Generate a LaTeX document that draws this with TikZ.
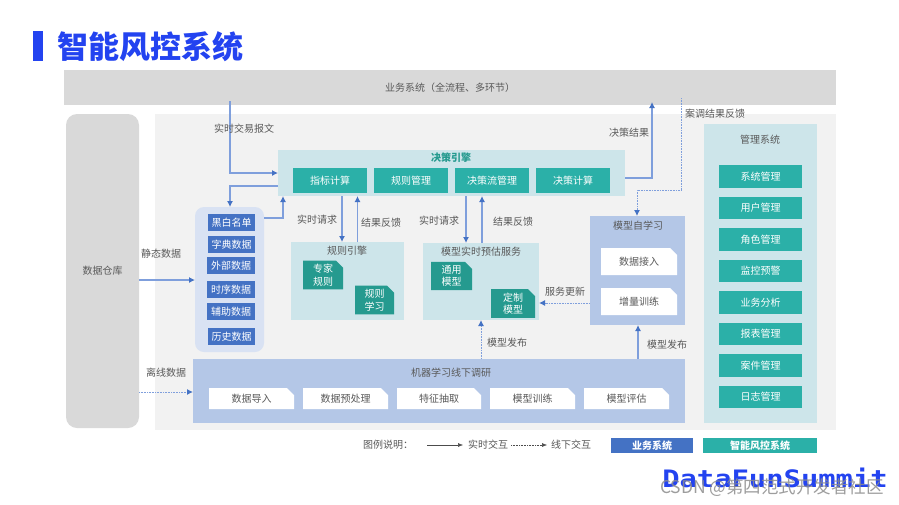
\documentclass[tikz,border=0pt]{standalone}
\usepackage{fontspec}
\setmainfont{Noto Sans CJK SC}
\newfontfamily\logofont{DejaVu Sans Mono}
\usetikzlibrary{shapes.misc,arrows.meta}
\definecolor{txt}{HTML}{595959}
\definecolor{teal1}{HTML}{2BB0A8}
\definecolor{teal2}{HTML}{259A8F}
\definecolor{panel}{HTML}{CDE5EA}
\definecolor{bluebox}{HTML}{4472C4}
\definecolor{bluepanel}{HTML}{B4C7E7}
\definecolor{datagroup}{HTML}{D9E2F3}
\definecolor{linec}{HTML}{7F9FDC}
\definecolor{tipc}{HTML}{4472C4}
\definecolor{ttl}{HTML}{2343F0}
\newcommand{\bx}[7]{\node[#2,minimum width={(#5)-(#3)},minimum height={(#6)-(#4)}] (#1) at ({((#3)+(#5))/2},{((#4)+(#6))/2}) {#7};}
\tikzset{
  x=1pt,y=-1pt,
  every node/.style={inner sep=0pt,outer sep=0pt,text=txt,font=\fontsize{10}{12}\selectfont},
  base/.style={rectangle,fill=#1},
  panelbox/.style={base=panel},
  tealbox/.style={base=teal1,text=white},
  databox/.style={base=bluebox,text=white},
  foldbox/.style={chamfered rectangle,chamfered rectangle corners=north east,chamfered rectangle xsep=3.5pt,chamfered rectangle ysep=3.5pt,fill=teal2,text=white,align=center,font=\fontsize{10}{12.5}\selectfont},
  paperbox/.style={chamfered rectangle,chamfered rectangle corners=north east,chamfered rectangle xsep=3.5pt,chamfered rectangle ysep=3.5pt,fill=white},
  live/.style={draw=linec,line width=1.1pt,-{Latex[length=6pt,width=6pt,color=tipc]}},
  off/.style={draw=linec,line width=1pt,dash pattern=on 1pt off 0.6pt,-{Latex[length=6pt,width=6pt,color=tipc]}},
  legendline/.style={draw=black!70,line width=0.5pt,-{Latex[length=5pt,width=4pt]}},
  legendoff/.style={draw=black!70,line width=0.5pt,dash pattern=on 1pt off 0.6pt,-{Latex[length=5pt,width=4pt]}},
}
\begin{document}
\begin{tikzpicture}
\useasboundingbox (0,0) rectangle (899,504);
\fill[white] (0,0) rectangle (899,504);
% title
\fill[ttl] (33,31) rectangle (43,61);
\node[anchor=center,text=ttl,font=\fontsize{31}{33}\selectfont\bfseries] (title) at (150.5,47) {智能风控系统};
% background regions
\bx{bizsys}{base=black!15}{64}{70}{836}{105}{业务系统（全流程、多环节）}
\fill[black!5] (155,114) rectangle (836,430);
\bx{dw}{rectangle,rounded corners=11pt,fill=black!15}{66}{114}{139}{428}{数据仓库}
% decision engine
\bx{engine}{panelbox}{278}{150}{625}{196}{}
\node[text=teal2,font=\fontsize{10}{12}\selectfont\bfseries] (enginet) at (451,158) {决策引擎};
\bx{e1}{tealbox}{293}{168}{367}{193}{指标计算}
\bx{e2}{tealbox}{374}{168}{448}{193}{规则管理}
\bx{e3}{tealbox}{455}{168}{529}{193}{决策流管理}
\bx{e4}{tealbox}{536}{168}{610}{193}{决策计算}
% data group
\bx{data}{rectangle,rounded corners=9pt,fill=datagroup}{195}{207}{264}{352}{}
\bx{d1}{databox}{208}{214}{255}{231}{黑白名单}
\bx{d2}{databox}{208}{236}{255}{253}{字典数据}
\bx{d3}{databox}{207}{257}{255}{274}{外部数据}
\bx{d4}{databox}{207}{281}{255}{298}{时序数据}
\bx{d5}{databox}{207}{303}{255}{320}{辅助数据}
\bx{d6}{databox}{208}{328}{255}{345}{历史数据}
% rule engine
\bx{rule}{panelbox}{291}{242}{404}{320}{}
\node (rulet) at (347,251) {规则引擎};
\bx{r1}{foldbox}{303}{262}{343}{288}{专家\\规则}
\bx{r2}{foldbox}{355}{287}{394}{313}{规则\\学习}
% model service
\bx{serv}{panelbox}{423}{243}{539}{320}{}
\node (servt) at (481,252) {模型实时预估服务};
\bx{s1}{foldbox}{431}{263}{472}{289}{通用\\模型}
\bx{s2}{foldbox}{491}{290}{535}{317}{定制\\模型}
% self learning
\bx{self}{base=bluepanel}{590}{216}{685}{325}{}
\node (selft) at (638,226) {模型自学习};
\bx{l1}{paperbox}{601}{248}{677}{275}{数据接入}
\bx{l2}{paperbox}{601}{288}{677}{315}{增量训练}
% ml
\bx{ml}{base=bluepanel}{193}{359}{685}{423}{}
\node (mlt) at (451,373) {机器学习线下调研};
\bx{m1}{paperbox}{209}{388}{294}{409}{数据导入}
\bx{m2}{paperbox}{303}{388}{388}{409}{数据预处理}
\bx{m3}{paperbox}{397}{388}{481}{409}{特征抽取}
\bx{m4}{paperbox}{490}{388}{575}{409}{模型训练}
\bx{m5}{paperbox}{584}{388}{669}{409}{模型评估}
% management
\bx{mgr}{panelbox}{704}{124}{817}{423}{}
\node (mgrt) at (760,140) {管理系统};
\bx{g1}{tealbox}{719}{165}{802}{188}{系统管理}
\bx{g2}{tealbox}{719}{197}{802}{219}{用户管理}
\bx{g3}{tealbox}{719}{228}{802}{251}{角色管理}
\bx{g4}{tealbox}{719}{260}{802}{282}{监控预警}
\bx{g5}{tealbox}{719}{291}{802}{314}{业务分析}
\bx{g6}{tealbox}{719}{323}{802}{345}{报表管理}
\bx{g7}{tealbox}{719}{354}{802}{377}{案件管理}
\bx{g8}{tealbox}{719}{386}{802}{408}{日志管理}
% connectors
\coordinate (a) at (230,101);
\coordinate (b) at (681,98);
\coordinate (c) at (652,102);
\draw[live] (a) |- (engine.west |- 0,173);
\draw[live] (engine.west |- 0,186) -| (230,0 |- data.north);
\draw[live] (data.east |- 0,218) -| (283,0 |- engine.south);
\draw[live] (342,0 |- engine.south) -- (342,0 |- rule.north);
\draw[live] (357.5,0 |- rule.north) -- (357.5,0 |- engine.south);
\draw[live] (466,0 |- engine.south) -- (466,0 |- serv.north);
\draw[live] (482,0 |- serv.north) -- (482,0 |- engine.south);
\draw[live] (engine.east |- 0,178) -| (c);
\draw[off] (b) -- (681,190) -| (637,0 |- self.north);
\draw[off] (self.west |- 0,303) -- (serv.east |- 0,303);
\draw[off] (481,0 |- ml.north) -- (481,0 |- serv.south);
\draw[live] (638,0 |- ml.north) -- (638,0 |- self.south);
\draw[live] (dw.east |- 0,280) -- (data.west |- 0,280);
\draw[off] (dw.east |- 0,392) -- (ml.west |- 0,392);
% labels
\node (t1) at (244,129) {实时交易报文};
\node (t2) at (317,220) {实时请求};
\node (t3) at (381,223) {结果反馈};
\node (t4) at (439,221) {实时请求};
\node (t5) at (513,222) {结果反馈};
\node (t6) at (629,133) {决策结果};
\node (t7) at (715,114) {案调结果反馈};
\node (t8) at (565,292) {服务更新};
\node (t9) at (507,343) {模型发布};
\node (t10) at (667,345) {模型发布};
\node (t11) at (161,254) {静态数据};
\node (t12) at (166,373) {离线数据};
% legend
\node (lg) at (388,445) {图例说明：};
\coordinate (la) at (427,445);
\node (lg1) at (488,445) {实时交互};
\coordinate (lb) at (511,445);
\node (lg2) at (571,445) {线下交互};
\draw[legendline] (la) -- ([xshift=-5pt]lg1.west);
\draw[legendoff] (lb) -- ([xshift=-4pt]lg2.west);
\bx{k1}{databox,font=\fontsize{10}{12}\selectfont\bfseries}{611}{438}{693}{453}{业务系统}
\bx{k2}{tealbox,font=\fontsize{10}{12}\selectfont\bfseries}{703}{438}{817}{453}{智能风控系统}
% logo and watermark
\node[text=ttl,font=\logofont\fontsize{24}{26}\selectfont\bfseries,xscale=1.2] (logo) at (775,478) {DataFunSummit};
\node[text=black!45,font=\fontsize{17.5}{20}\selectfont,opacity=.85] (wm) at (772,488) {CSDN @第四范式开发者社区};
\end{tikzpicture}
\end{document}
